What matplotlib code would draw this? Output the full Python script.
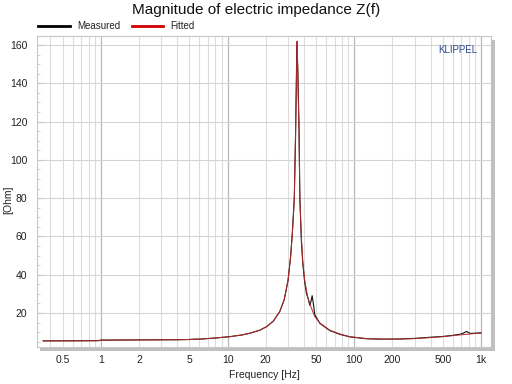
import matplotlib
matplotlib.use("Agg")
import matplotlib.pyplot as plt
from matplotlib.ticker import FixedLocator, NullFormatter, MultipleLocator
from matplotlib.patches import Rectangle

plt.rcParams['font.family'] = ['Liberation Sans', 'DejaVu Sans']

# Fitted impedance curve (Hz, Ohm)
fit_f = [0.35, 0.6, 0.95, 1.0, 2, 4, 6, 8, 10.4, 13, 15, 18, 20.4, 23, 25.8, 28, 30,
         31.5, 32.5, 33.6, 34.4, 35.0, 35.3, 35.7, 36.6, 37.2, 38.2, 39.2, 40.6, 43,
         45, 48.8, 53.6, 64, 77, 92, 125, 168, 228, 300, 400, 500, 700, 1000]
fit_z = [5.4, 5.4, 5.5, 5.8, 5.9, 6.0, 6.3, 6.9, 7.6, 8.5, 9.4, 11.0, 12.9, 15.8, 20.7, 27, 37,
         50, 62, 79, 115, 145, 162, 150, 115, 79, 60, 47, 37, 28,
         24, 18, 14.7, 11, 9, 7.6, 6.6, 6.3, 6.3, 6.6, 7.1, 7.6, 8.6, 9.5]

# Measured impedance curve (Hz, Ohm)
meas_f = [0.35, 0.95, 1.0, 2, 4, 5, 5.5, 6, 8, 10.4, 13, 15, 18, 20.4, 23, 25.8, 28, 30,
          31.5, 32.5, 33.6, 34.4, 35.0, 35.3, 35.5, 35.8, 36.6, 37.2, 38.2, 39.2, 40.6,
          42, 43.5, 44.5, 45.5, 46.5, 47.5, 48.8, 53.6, 64, 77, 92, 125, 168, 228, 300,
          400, 500, 600, 700, 770, 820, 1000]
meas_z = [5.4, 5.5, 5.8, 5.9, 6.0, 6.1, 6.3, 6.3, 6.9, 7.6, 8.5, 9.4, 11.0, 12.9, 15.8, 20.7, 27, 37,
          50, 63, 80, 112, 148, 160, 155, 148, 118, 80, 58, 46, 36,
          30, 27, 24, 26, 29, 25, 19, 14.5, 10.8, 8.8, 7.5, 6.5, 6.3, 6.4, 6.7,
          7.3, 7.7, 8.3, 9.0, 10.3, 9.3, 9.6]

xticks = [0.5, 1, 2, 5, 10, 20, 50, 100, 200, 500, 1000]
xticklabels = ['0.5', '1', '2', '5', '10', '20', '50', '100', '200', '500', '1k']
yticks = [20, 40, 60, 80, 100, 120, 140, 160]

fig = plt.figure(figsize=(5.12, 3.84), dpi=100)
ax = fig.add_axes([37/512, 1-347/384, (491-37)/512, (347-36)/384])

ax.set_xscale('log')
ax.set_xlim(0.313, 1200)
ax.set_ylim(2.2, 164.7)

minor_x = []
for dec in [0.1, 1, 10, 100]:
    for m in range(2, 10):
        v = m * dec
        if 0.313 < v < 1200:
            minor_x.append(v)
major_x = [1, 10, 100, 1000]
for v in minor_x:
    ax.axvline(v, color='#dcdcdc', lw=0.8, zorder=0)
for v in major_x:
    ax.axvline(v, color='#b8b8b8', lw=0.9, zorder=0)
for v in yticks:
    ax.axhline(v, color='#d4d4d4', lw=0.8, zorder=0)

ax.plot(meas_f, meas_z, color='#111111', lw=0.8, zorder=2, label='Measured')
ax.plot(fit_f, fit_z, color='#b02a2a', lw=0.7, zorder=3, label='Fitted')

ax.set_xticks(xticks)
ax.set_xticklabels(xticklabels)
ax.xaxis.set_minor_locator(FixedLocator([]))
ax.xaxis.set_minor_formatter(NullFormatter())
ax.set_yticks(yticks)
ax.yaxis.set_minor_locator(MultipleLocator(5))
ax.tick_params(axis='x', which='both', length=0, labelsize=7.5, pad=6, colors='#222222')
ax.tick_params(axis='y', which='major', direction='in', length=4, color='#c8c8c8',
               labelsize=7.5, pad=7, labelcolor='#222222')
ax.tick_params(axis='y', which='minor', direction='in', length=2.5, color='#c8c8c8')

for s in ax.spines.values():
    s.set_color('#c8c8c8')
    s.set_linewidth(0.8)

ax.set_xlabel('Frequency [Hz]', fontsize=7.5, labelpad=3, color='#222222')
fig.text(8/512, 1-200/384, '[Ohm]', rotation=90, fontsize=7.5, ha='center', va='center',
         color='#222222')
fig.text(256/512, 1-10/384, 'Magnitude of electric impedance Z(f)', ha='center', va='center',
         fontsize=11, color='#111111')

ax.text(0.97, 0.955, 'KLIPPEL', transform=ax.transAxes, ha='right', va='center',
        fontsize=7, color='#2a4a8a')

# legend drawn in figure coords
leg_y = 1 - 26/384
fig.add_artist(plt.Line2D([38/512, 70/512], [leg_y, leg_y], color='black', lw=2))
fig.text(77/512, leg_y, 'Measured', fontsize=7, va='center', ha='left', color='#222222')
fig.add_artist(plt.Line2D([132/512, 163/512], [leg_y, leg_y], color='#d00000', lw=2))
fig.text(170/512, leg_y, 'Fitted', fontsize=7, va='center', ha='left', color='#222222')

# shadow bars
fig.add_artist(Rectangle((40/512, 1-351/384), (494-40)/512, 3.5/384, color='#c0c0c0', lw=0))
fig.add_artist(Rectangle((491/512, 1-351/384), 3.5/512, (351-40)/384, color='#c0c0c0', lw=0))

fig.savefig('out.png', dpi=100)
